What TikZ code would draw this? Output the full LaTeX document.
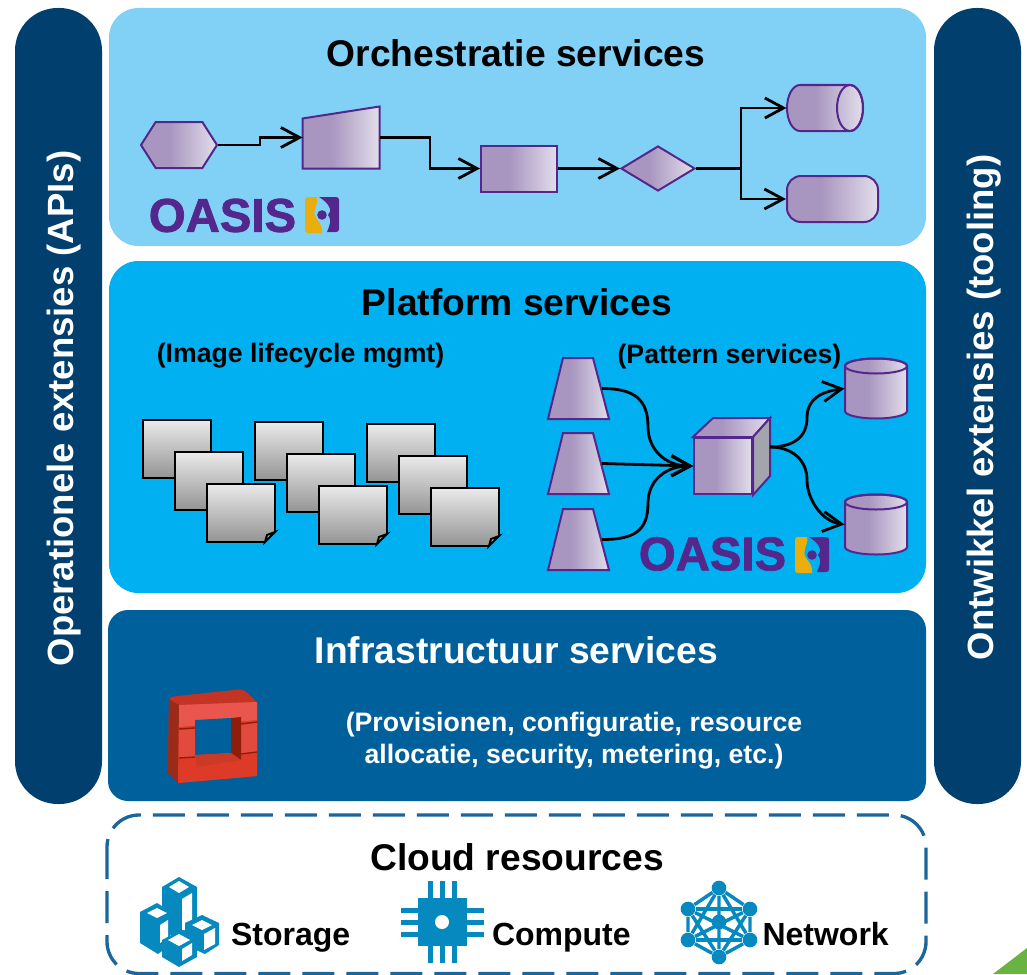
\documentclass[tikz,border=0pt]{standalone}
\usepackage{fontspec}
\setmainfont{Liberation Sans}
\newfontfamily\oasisfont{Liberation Sans}[BoldFeatures={FakeBold=1.6}]
\usetikzlibrary{arrows.meta,shapes.geometric,shapes.symbols,calc}

\definecolor{barblue}{HTML}{003F6E}
\definecolor{orchblue}{HTML}{81D1F7}
\definecolor{platblue}{HTML}{00B0F0}
\definecolor{infrablue}{HTML}{00609C}
\definecolor{dashblue}{HTML}{1A659B}
\definecolor{iconblue}{HTML}{0689BE}
\definecolor{oasispurple}{HTML}{54278D}
\definecolor{oasisyellow}{HTML}{E9AE0E}
\definecolor{fadeA}{HTML}{A996C0}
\definecolor{fadeB}{HTML}{E2DEEB}
\pgfdeclarehorizontalshading{purplefade}{100bp}{color(0bp)=(fadeA); color(25bp)=(fadeA); color(44bp)=(fadeA); color(75bp)=(fadeB); color(100bp)=(fadeB)}

\tikzset{
  every picture/.style={line width=0.75pt},
  titletext/.style={inner sep=0.75pt,font=\fontsize{27.9}{32}\selectfont\bfseries},
  subtext/.style={inner sep=0.75pt,align=center,font=\fontsize{20}{24}\selectfont\bfseries},
  icontext/.style={inner sep=0pt,anchor=base west,font=\fontsize{24}{28}\selectfont\bfseries},
  bartext/.style={inner sep=0.75pt,rotate=90,color=white,font=\fontsize{27.4}{32}\selectfont\bfseries},
  oasistext/.style={inner sep=0pt,color=oasispurple,font=\fontsize{35.5}{40}\selectfont\oasisfont\bfseries},
  flowshape/.style={draw=oasispurple,line width=1.5pt,inner sep=0pt,shading=purplefade},
  flowpath/.style={draw=oasispurple,line width=1.5pt,shading=purplefade},
  shapeslot/.style={inner sep=0pt},
  flow/.style={draw=black,line width=2.1pt,-{Straight Barb[length=14pt,width=15pt,line width=2.1pt]}},
  plainflow/.style={draw=black,line width=2.1pt},
  docsheet/.style={draw=black,line width=1.7pt,inner sep=0pt,outer sep=0pt,minimum width=51pt,minimum height=43.5pt,anchor=north west,top color=white!92!black,bottom color=black!42},
  netdot/.style={circle,fill=iconblue,inner sep=0pt,minimum size=11pt},
  oasislogo/.pic={
    \fill [oasispurple] (14,0) -- (31,0) .. controls (33,0) and (34,1) .. (34,3) -- (34,32) .. controls (34,34) and (33,35) .. (31,35) -- (22,35) .. controls (25,27) and (27,24) .. (23,18) .. controls (28,14) and (24,6) .. (14,0) -- cycle ;
    \fill [oasisyellow] (3,0) -- (12,0) .. controls (14,8) and (6,13) .. (11,21) .. controls (15,26) and (18,30) .. (17,36) -- (3,36) .. controls (1,36) and (0,35) .. (0,33) -- (0,3) .. controls (0,1) and (1,0) .. (3,0) -- cycle ;
    \fill [oasispurple] (17,18) circle [radius=4.8] ;
  }
}

\begin{document}
\begin{tikzpicture}[x=0.75pt,y=0.75pt,yscale=-1,xscale=1]
\useasboundingbox (0,0) rectangle (1027,974);

%Shape: green corner
\fill [color={rgb, 255:red, 105; green, 179; blue, 66 }] (993,974) -- (1027,948) -- (1027,974) -- cycle ;

%Shape: side bars
\fill [barblue, rounded corners=32pt] (15,8) rectangle (102,804) ;
\fill [barblue, rounded corners=32pt] (934,8) rectangle (1021,804) ;

%Shape: panels
\fill [orchblue, rounded corners=22pt] (109,8) rectangle (926,246) ;
\fill [platblue, rounded corners=22pt] (109,261) rectangle (926,593) ;
\fill [infrablue, rounded corners=15pt] (108,610) rectangle (926,801) ;
\draw [dashblue, line width=2.5pt, dash pattern={on 24pt off 9pt}, rounded corners=24pt] (107,815) rectangle (926,973.5) ;

% Text Node
\node (orchTitle) [titletext] at (516,53) {Orchestratie services};
\node (platTitle) [titletext] at (517,302) {Platform services};
\node (infraTitle) [titletext,color=white] at (516.5,650) {Infrastructuur services};
\node (cloudTitle) [titletext] at (517,857) {Cloud resources};
\node (opsBar) [bartext] at (64,408.5) {Operationele extensies (APIs)};
\node (devBar) [bartext] at (984.5,407.5) {Ontwikkel extensies (tooling)};
\node (imageNote) [subtext] at (300.5,356) {(Image lifecycle mgmt)};
\node (patternNote) [subtext] at (729.5,357) {(Pattern services)};
\node (infraNote) [subtext,color=white] at (574,741) {(Provisionen, configuratie, resource\\allocatie, security, metering, etc.)};

%Shape: orchestration flow
\node (hexStart) [flowshape,signal,signal to=east and west,signal pointer angle=115,minimum width=57pt,minimum height=34.5pt] at (179,145) {};
\node (manualStep) [shapeslot,minimum width=57pt,minimum height=45.75pt] at (341,137.5) {};
\draw [flowpath] (manualStep.south west) -- (manualStep.south east) -- (manualStep.north east) -- ($(manualStep.north west)+(0,12)$) -- cycle ;
\node (taskBox) [flowshape,rectangle,minimum width=57pt,minimum height=34.5pt] at (519,168.5) {};
\node (gateway) [flowshape,diamond,minimum width=55.5pt,minimum height=33.75pt] at (658,168.5) {};
\node (drumEnd) [shapeslot,minimum width=57pt,minimum height=34.5pt] at (825,108) {};
\draw [flowpath] (850,85) -- (800,85) arc [start angle=-90,end angle=-270,x radius=13,y radius=23] -- (850,131) arc [start angle=90,end angle=-90,x radius=13,y radius=23] -- cycle ;
\draw [draw=oasispurple,line width=1.5pt] (850,108) ellipse [x radius=13,y radius=23] ;
\node (pillEnd) [flowshape,rectangle,rounded corners=10.5pt,minimum width=68.25pt,minimum height=34.5pt] at (832.5,199) {};
\coordinate (forkPoint) at (741,168.5);

\draw [flow] (hexStart.east) -- (260,145) -- (260,137.5) -- (manualStep.west) ;
\draw [flow] (manualStep.east) -- (430,137.5) -- (430,168.5) -- (taskBox.west) ;
\draw [flow] (taskBox.east) -- (gateway.west) ;
\draw [plainflow] (gateway.east) -- (forkPoint) ;
\draw [flow] (forkPoint) |- (drumEnd.west) ;
\draw [flow] (forkPoint) |- (pillEnd.west) ;

% Text Node
\node (oasisTop) [oasistext] at (222.5,215.5) {OASIS};
\pic [yscale=-1] at (305,197) {oasislogo};

%Shape: image sheets
\node (sheetAa) [docsheet] at (143,420) {};
\node (sheetAb) [docsheet] at (175,452) {};
\node (sheetAc) [docsheet] at (207,484) {};
\node (sheetBa) [docsheet] at (255,422) {};
\node (sheetBb) [docsheet] at (287,454) {};
\node (sheetBc) [docsheet] at (319,486) {};
\node (sheetCa) [docsheet] at (367,424) {};
\node (sheetCb) [docsheet] at (399,456) {};
\node (sheetCc) [docsheet] at (431,488) {};

%Shape: turned corners
\fill [platblue] (sheetAc.south east) ++(1.5,1.5) -- ++(-12,0) -- ++(12,-12) -- cycle ;
\draw [black, line width=1.5pt, fill=black!25] (sheetAc.south east) ++(0,-10) -- ++(-10,10) -- ++(2,-7) -- cycle ;
\fill [platblue] (sheetBc.south east) ++(1.5,1.5) -- ++(-12,0) -- ++(12,-12) -- cycle ;
\draw [black, line width=1.5pt, fill=black!25] (sheetBc.south east) ++(0,-10) -- ++(-10,10) -- ++(2,-7) -- cycle ;
\fill [platblue] (sheetCc.south east) ++(1.5,1.5) -- ++(-12,0) -- ++(12,-12) -- cycle ;
\draw [black, line width=1.5pt, fill=black!25] (sheetCc.south east) ++(0,-10) -- ++(-10,10) -- ++(2,-7) -- cycle ;

%Shape: pattern services
\node (sourceA) [shapeslot,minimum width=34.5pt,minimum height=45.75pt] at (578.5,388.5) {};
\draw [flowpath] (548,419) -- (563,358) -- (593,358) -- (609,419) -- cycle ;
\node (sourceB) [shapeslot,minimum width=34.5pt,minimum height=45.75pt] at (578.5,463.5) {};
\draw [flowpath] (548,494) -- (563,433) -- (593,433) -- (609,494) -- cycle ;
\node (sourceC) [shapeslot,minimum width=34.5pt,minimum height=45.75pt] at (578.5,539.5) {};
\draw [flowpath] (548,570) -- (563,509) -- (593,509) -- (609,570) -- cycle ;
\node (cube) [flowshape,rectangle,minimum width=43.5pt,minimum height=42pt] at (723,466) {};
\draw [flowpath] (cube.north west) -- (713,418) -- (770,418) -- (cube.north east) -- cycle ;
\draw [draw=oasispurple,line width=1.5pt,fill={rgb, 255:red, 164; green, 164; blue, 174 }] (cube.north east) -- (770,418) -- (770,476) -- (cube.south east) -- cycle ;
\coordinate (cubeOut) at (770,447);
\node (storeA) [shapeslot,minimum width=46.5pt,minimum height=45.75pt] at (876,388.5) {};
\draw [flowpath] (845,366) -- (845,411) arc [start angle=180,end angle=0,x radius=31,y radius=7.5] -- (907,366) arc [start angle=0,end angle=-180,x radius=31,y radius=7.5] -- cycle ;
\draw [draw=oasispurple,line width=1.5pt] (876,366) ellipse [x radius=31,y radius=7.5] ;
\node (storeB) [shapeslot,minimum width=46.5pt,minimum height=45.75pt] at (876,524.5) {};
\draw [flowpath] (845,502) -- (845,547) arc [start angle=180,end angle=0,x radius=31,y radius=7.5] -- (907,502) arc [start angle=0,end angle=-180,x radius=31,y radius=7.5] -- cycle ;
\draw [draw=oasispurple,line width=1.5pt] (876,502) ellipse [x radius=31,y radius=7.5] ;

\draw [flow] (sourceA.east) .. controls +(32,0) and +(0,-28) .. (648,427) .. controls +(0,22) and +(-28,0) .. (cube.west) ;
\draw [flow] (sourceB.east) -- (cube.west) ;
\draw [flow] (sourceC.east) .. controls +(32,0) and +(0,28) .. (648,503) .. controls +(0,-22) and +(-28,0) .. (cube.west) ;
\draw [flow] (cubeOut) .. controls +(22,0) and +(0,20) .. (807,418) .. controls +(0,-20) and +(-22,3) .. (storeA.west) ;
\draw [flow] (cubeOut) .. controls +(22,0) and +(0,-20) .. (807,480) .. controls +(0,20) and +(-22,-3) .. (storeB.west) ;

% Text Node
\node (oasisMid) [oasistext] at (712.5,554) {OASIS};
\pic [yscale=-1] at (795,537) {oasislogo};

%Shape: red frame
\fill [color={rgb, 255:red, 195; green, 52; blue, 37 }, rounded corners=3pt] (169,697) -- (243,689) -- (257,702) -- (257,776) -- (178,783) -- (168,773) -- cycle ;
\fill [color={rgb, 255:red, 155; green, 42; blue, 24 }] (169,699) -- (179,705) -- (178,783) -- (168,773) -- cycle ;
\fill [color={rgb, 255:red, 221; green, 58; blue, 40 }] (179,705) -- (257,702) -- (257,776) -- (178,783) -- cycle ;
\fill [color={rgb, 255:red, 234; green, 86; blue, 77 }] (179,705) -- (257,702) -- (257,720) -- (179,727) -- cycle ;
\fill [color={rgb, 255:red, 226; green, 74; blue, 62 }] (179,730) -- (195,729) -- (195,757) -- (179,758) -- cycle ;
\fill [color={rgb, 255:red, 226; green, 74; blue, 62 }] (241,725) -- (257,723) -- (257,752) -- (241,753) -- cycle ;
\fill [infrablue] (195,720) -- (231,718) -- (231,753) -- (195,755) -- cycle ;
\fill [color={rgb, 255:red, 142; green, 30; blue, 10 }] (231,718) -- (241,717) -- (241,760) -- (231,753) -- cycle ;
\fill [color={rgb, 255:red, 203; green, 58; blue, 38 }] (195,755) -- (231,753) -- (241,760) -- (197,767) -- cycle ;
\draw [color={rgb, 255:red, 142; green, 30; blue, 10 }, line width=1pt] (179,729) -- (195,728) (179,758) -- (195,757) (241,724) -- (257,722) (241,754) -- (257,752) ;

%Shape: storage icon
\fill [iconblue] (179,877) -- (197,887) -- (197,935) -- (162,935) -- (162,887) -- cycle ;
\fill [white] (169,887) -- (179,881) -- (189,887) -- (179,893) -- cycle ;
\fill [white] (182,899) -- (192,893) -- (192,930) -- (182,930) -- cycle ;
\fill [iconblue] (157,903) -- (170,911) -- (170,945) -- (158,954) -- (140,943) -- (140,912) -- cycle ;
\fill [white] (147,913) -- (157,908) -- (167,913) -- (157,918) -- cycle ;
\fill [white] (160,925) -- (168,920) -- (168,938) -- (160,943) -- cycle ;
\fill [iconblue] (202,915) -- (219,923) -- (219,945) -- (205,954) -- (185,945) -- (185,923) -- cycle ;
\fill [white] (192,925) -- (202,920) -- (212,925) -- (202,930) -- cycle ;
\fill [white] (204,934) -- (215,928) -- (215,944) -- (204,950) -- cycle ;
\fill [iconblue] (179,931) -- (197,940) -- (197,957) -- (179,967) -- (162,957) -- (162,940) -- cycle ;
\fill [white] (168,940) -- (179,934) -- (190,940) -- (179,946) -- cycle ;
\fill [white] (182,949) -- (192,943) -- (192,955) -- (182,961) -- cycle ;

% Text Node
\node (storageLabel) [icontext] at (230.5,945.5) {Storage};

%Shape: compute icon
\draw [iconblue, line width=3.75pt] (430,881) -- (430,963) (442,881) -- (442,963) (454,881) -- (454,963) (401,910) -- (484,910) (401,922) -- (484,922) (401,934) -- (484,934) ;
\fill [iconblue] (418,898) rectangle (467,946) ;
\fill [white] (442,922) circle [radius=7] ;

% Text Node
\node (computeLabel) [icontext] at (491.5,945.5) {Compute};

%Shape: network icon
\node (netTop) [netdot] at (719,888) {};
\node (netUpR) [netdot] at (750,909) {};
\node (netLowR) [netdot] at (750,940) {};
\node (netBot) [netdot] at (719,957) {};
\node (netLowL) [netdot] at (688,940) {};
\node (netUpL) [netdot] at (688,909) {};
\node (netMid) [netdot] at (719,922) {};
\draw [iconblue, line width=2.6pt] (netTop) -- (netUpR) -- (netLowR) -- (netBot) -- (netLowL) -- (netUpL) -- (netTop) -- (netBot) ;
\draw [iconblue, line width=2.6pt] (netTop) -- (netLowR) -- (netUpL) -- (netBot) -- (netUpR) -- (netLowL) -- (netTop) ;
\draw [iconblue, line width=2.6pt] (netUpL) -- (netUpR) (netLowL) -- (netLowR) ;

% Text Node
\node (networkLabel) [icontext] at (762,945.5) {Network};

\end{tikzpicture}
\end{document}
